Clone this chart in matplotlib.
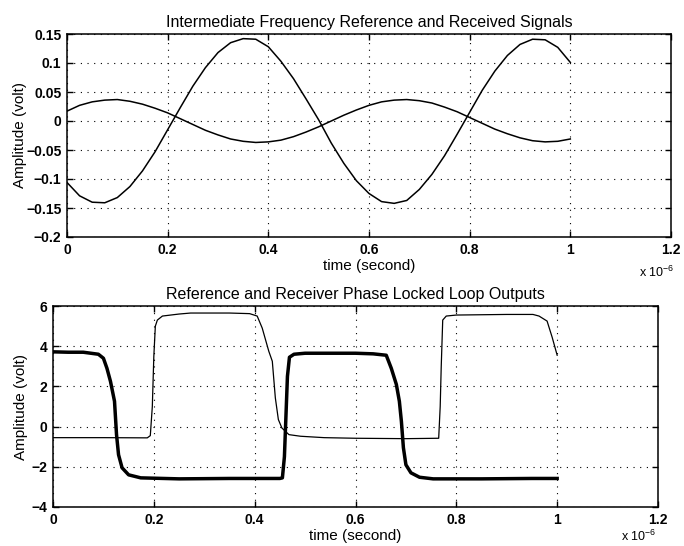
import matplotlib
matplotlib.use('Agg')
import matplotlib.pyplot as plt
from matplotlib.ticker import MultipleLocator, FuncFormatter

plt.rcParams['font.family'] = ['Liberation Sans', 'DejaVu Sans']
plt.rcParams['mathtext.fontset'] = 'custom'
plt.rcParams['mathtext.rm'] = 'Liberation Sans'

# ---------------- data (time in units of 1e-6 s) ----------------
t_if = [0.000, 0.025, 0.050, 0.075, 0.100, 0.125, 0.150, 0.175, 0.200, 0.225,
        0.250, 0.275, 0.300, 0.325, 0.350, 0.375, 0.400, 0.425, 0.450, 0.475,
        0.500, 0.525, 0.550, 0.575, 0.600, 0.625, 0.650, 0.675, 0.700, 0.725,
        0.750, 0.775, 0.800, 0.825, 0.850, 0.875, 0.900, 0.925, 0.950, 0.975,
        1.000]
# large intermediate-frequency signal (volt)
if_large = [-0.106, -0.129, -0.140, -0.141, -0.132, -0.113, -0.086, -0.053, -0.015, 0.023,
            0.060, 0.092, 0.118, 0.135, 0.142, 0.141, 0.128, 0.103, 0.073, 0.038,
            0.002, -0.038, -0.073, -0.103, -0.125, -0.139, -0.142, -0.137, -0.118, -0.092,
            -0.060, -0.023, 0.015, 0.053, 0.086, 0.113, 0.132, 0.141, 0.140, 0.127,
            0.101]
# small intermediate-frequency signal (volt)
if_small = [0.017, 0.027, 0.033, 0.036, 0.037, 0.034, 0.029, 0.022, 0.014, 0.004,
            -0.006, -0.016, -0.024, -0.031, -0.035, -0.037, -0.036, -0.033, -0.027, -0.019,
            -0.010, 0.000, 0.010, 0.019, 0.027, 0.033, 0.036, 0.037, 0.035, 0.031,
            0.024, 0.016, 0.006, -0.004, -0.014, -0.022, -0.029, -0.034, -0.036, -0.035,
            -0.031]

# reference PLL output (thick line)
t_ref = [0.000, 0.030, 0.060, 0.090, 0.100, 0.107, 0.114, 0.122, 0.126, 0.130,
         0.137, 0.150, 0.174, 0.250, 0.350, 0.450, 0.455, 0.459, 0.462, 0.465,
         0.469, 0.478, 0.500, 0.550, 0.600, 0.635, 0.661, 0.671, 0.681, 0.687,
         0.691, 0.695, 0.700, 0.710, 0.727, 0.754, 0.850, 0.950, 1.000]
v_ref = [3.72, 3.70, 3.70, 3.60, 3.40, 2.90, 2.25, 1.26, -0.40, -1.40,
         -2.05, -2.40, -2.55, -2.60, -2.58, -2.58, -2.55, -1.50, 0.50, 2.50,
         3.45, 3.60, 3.65, 3.65, 3.65, 3.62, 3.55, 2.90, 2.10, 1.26,
         0.27, -1.05, -1.90, -2.30, -2.52, -2.60, -2.60, -2.58, -2.58]

# receiver PLL output (thin line)
t_rcv = [0.000, 0.100, 0.187, 0.193, 0.197, 0.200, 0.203, 0.207, 0.217, 0.250,
         0.273, 0.350, 0.390, 0.405, 0.415, 0.428, 0.435, 0.441, 0.447, 0.454,
         0.468, 0.491, 0.538, 0.600, 0.700, 0.765, 0.768, 0.770, 0.773, 0.780,
         0.800, 0.900, 0.952, 0.964, 0.980, 0.990, 1.000]
v_rcv = [-0.55, -0.55, -0.56, -0.45, 1.00, 3.50, 5.00, 5.30, 5.50, 5.60,
         5.65, 5.65, 5.62, 5.50, 4.90, 3.75, 3.25, 1.43, 0.35, -0.07,
         -0.40, -0.48, -0.55, -0.58, -0.60, -0.58, 1.00, 2.95, 5.30, 5.50,
         5.55, 5.58, 5.58, 5.50, 5.25, 4.45, 3.55]

title_top = 'Intermediate Frequency Reference and Received Signals'
title_bot = 'Reference and Receiver Phase Locked Loop Outputs'
xlabel = 'time (second)'
ylabel = 'Amplitude (volt)'


def fmt(v, pos):
    s = f'{v:.10g}'
    if s in ('-0', '0.0', '-0.0'):
        s = '0'
    return s.replace('-', '\u2212')


def style(ax, ymin, ymax, ystep):
    ax.set_xlim(0, 1.2)
    ax.set_ylim(ymin, ymax)
    ax.xaxis.set_major_locator(MultipleLocator(0.2))
    ax.yaxis.set_major_locator(MultipleLocator(ystep))
    ax.xaxis.set_major_formatter(FuncFormatter(fmt))
    ax.yaxis.set_major_formatter(FuncFormatter(fmt))
    ax.tick_params(direction='in', length=4, width=1.0, top=True, right=True,
                   labelsize=10, pad=4, colors='black')
    for lab in ax.get_xticklabels() + ax.get_yticklabels():
        lab.set_fontweight('bold')
    ax.grid(True, color='black', linestyle=(0, (1, 5)), linewidth=0.8)
    for sp in ax.spines.values():
        sp.set_linewidth(1.1)
        sp.set_color('black')
    ax.set_xlabel(xlabel, fontsize=11, labelpad=2)
    ax.set_ylabel(ylabel, fontsize=11)


fig = plt.figure(figsize=(6.84, 5.46), dpi=100)
fig.patch.set_facecolor('white')

ax1 = fig.add_axes([67 / 684, 1 - 237 / 546, 604 / 684, 203 / 546])
ax1.plot(t_if, if_large, color='black', linewidth=1.1, solid_joinstyle='round')
ax1.plot(t_if, if_small, color='black', linewidth=1.1, solid_joinstyle='round')
style(ax1, -0.2, 0.15, 0.05)
ax1.set_title(title_top, fontsize=11.5, pad=5)
ax1.yaxis.set_label_coords(-0.066, 0.5)

ax2 = fig.add_axes([53 / 684, 1 - 507 / 546, 605 / 684, 201 / 546])
ax2.plot(t_rcv, v_rcv, color='black', linewidth=0.9)
ax2.plot(t_ref, v_ref, color='black', linewidth=2.5, solid_joinstyle='round')
style(ax2, -4, 6, 2)
ax2.set_title(title_bot, fontsize=11.5, pad=5)
ax2.yaxis.set_label_coords(-0.041, 0.5)

fig.text(674 / 684, 1 - 277 / 546, r'x 10$^{\mathregular{-6}}$', ha='right',
         va='baseline', fontsize=9)
fig.text(656 / 684, 0.004, r'x 10$^{\mathregular{-6}}$', ha='right',
         va='bottom', fontsize=9)

fig.savefig('out.png', dpi=100, facecolor='white')
